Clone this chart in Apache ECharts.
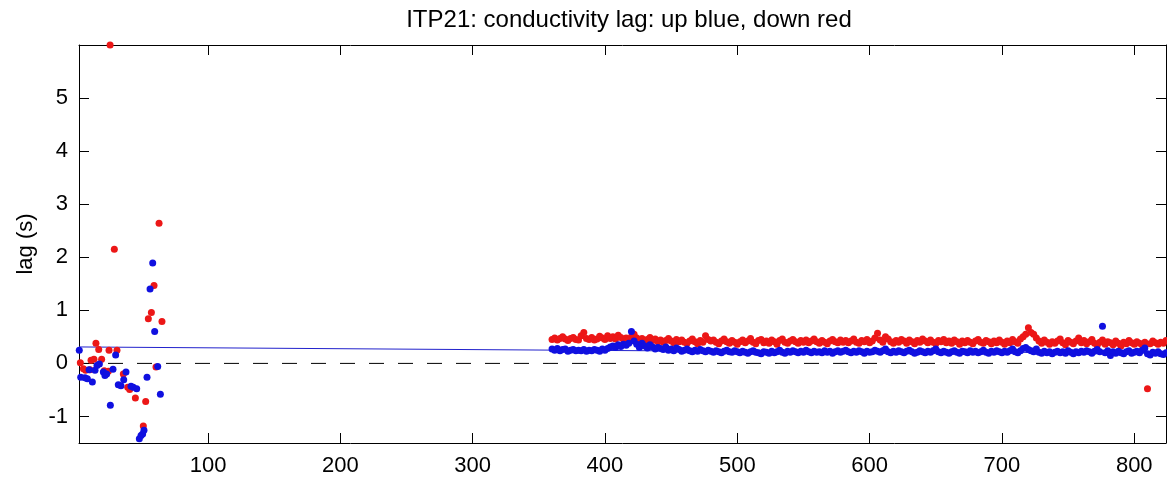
<!DOCTYPE html>
<html>
<head>
<meta charset="utf-8">
<script src="https://cdn.jsdelivr.net/npm/echarts@6/dist/echarts.min.js"></script>
<style>
html,body{margin:0;padding:0;background:#fff;}
#chart{width:1167px;height:482px;}
</style>
</head>
<body>
<div id="chart"></div>
<script>
// ---- data ----
const titleText = 'ITP21: conductivity lag: up blue, down red';
const yAxisName = 'lag (s)';
const xTicks = [100, 200, 300, 400, 500, 600, 700, 800];
const yTicks = [-1, 0, 1, 2, 3, 4, 5];
const xRange = [2.5, 824];
const yRange = [-1.5, 6];

// early profiles (x, lag)
const upEarly = [
  [2.7,0.25],[3.8,-0.26],[7,-0.27],[8.8,-0.29],[10.1,-0.12],[12.6,-0.35],[14.6,-0.13],[16.1,-0.04],
  [17.9,-0.01],[20.9,-0.16],[22.1,-0.23],[23.4,-0.2],[26.2,-0.79],[28.2,-0.11],[30.2,0.16],
  [32.2,-0.40],[34.2,-0.42],[36.3,-0.31],[38,-0.16],[41.8,-0.43],[43.5,-0.45],[46.1,-0.48],
  [48.1,-1.42],[49.4,-1.36],[50.6,-1.33],[51.6,-1.26],[53.9,-0.26],[56.2,1.40],[58.2,1.89],
  [59.7,0.60],[62,-0.06],[64,-0.58]
];
const downEarly = [
  [3.5,0.01],[5.8,-0.10],[7.5,-0.13],[10.8,-0.12],[11.6,0.06],[13.8,0.08],[15.3,0.38],[17.4,0.26],
  [19.6,0.08],[21.6,-0.14],[24.7,-0.15],[25.2,0.25],[26,6.0],[29.2,2.15],[31.2,0.25],[36,-0.2],
  [39.3,-0.45],[40.8,-0.49],[45.1,-0.65],[47.1,-1.53],[51.1,-1.18],[52.9,-0.72],[54.9,0.84],
  [57.2,0.96],[59.2,1.47],[60.7,-0.07],[63,2.64],[65.2,0.79]
];

// later profiles: first profile number and spacing, then lag values
const laterStart = 360;
const laterStep = 2;
const upLater = [
  0.27,0.25,0.28,0.24,0.26,0.27,0.23,0.25,0.26,0.24,0.25,
  0.24,0.26,0.23,0.25,0.24,0.26,0.25,0.23,0.27,0.25,
  0.28,0.31,0.33,0.30,0.35,0.32,0.36,0.34,0.38,0.60,
  0.42,0.36,0.30,0.38,0.33,0.29,0.35,0.31,0.27,0.30,
  0.28,0.26,0.31,0.25,0.27,0.24,0.29,0.26,0.23,0.25,
  0.27,0.24,0.22,0.25,0.23,0.26,0.24,0.22,0.25,0.23,
  0.21,0.24,0.22,0.20,0.23,0.25,0.22,0.21,0.24,0.22,
  0.20,0.23,0.21,0.19,0.22,0.24,0.21,0.20,0.18,0.22,
  0.21,0.19,0.23,0.20,0.22,0.25,0.21,0.19,0.23,0.21,
  0.24,0.22,0.20,0.23,0.21,0.25,0.22,0.20,0.23,0.21,
  0.22,0.20,0.24,0.21,0.23,0.19,0.22,0.24,0.21,0.23,
  0.25,0.22,0.20,0.23,0.21,0.24,0.22,0.19,0.23,0.21,
  0.22,0.25,0.23,0.21,0.24,0.27,0.22,0.20,0.23,0.21,
  0.24,0.22,0.20,0.23,0.25,0.22,0.19,0.21,0.24,0.22,
  0.20,0.23,0.21,0.24,0.27,0.22,0.20,0.23,0.21,0.19,
  0.22,0.24,0.21,0.19,0.23,0.22,0.20,0.24,0.21,0.23,
  0.20,0.22,0.25,0.21,0.19,0.23,0.21,0.24,0.22,0.20,
  0.23,0.21,0.24,0.27,0.22,0.20,0.24,0.28,0.30,0.26,
  0.24,0.22,0.27,0.21,0.19,0.23,0.20,0.22,0.18,0.21,
  0.23,0.20,0.22,0.19,0.24,0.21,0.18,0.22,0.20,0.23,
  0.21,0.24,0.22,0.19,0.23,0.26,0.22,0.70,0.20,0.24,
  0.15,0.22,0.19,0.23,0.20,0.18,0.22,0.24,0.19,0.21,
  0.23,0.20,0.25,0.29,0.18,0.16,0.21,0.19,0.22,0.18,
  0.17,0.20,0.19
];
const downLater = [
  0.45,0.48,0.44,0.47,0.50,0.46,0.43,0.47,0.49,0.45,0.44,
  0.52,0.58,0.47,0.45,0.49,0.44,0.46,0.51,0.48,0.45,
  0.52,0.47,0.50,0.46,0.53,0.49,0.45,0.48,0.44,0.50,
  0.55,0.48,0.44,0.47,0.42,0.45,0.49,0.43,0.46,0.41,
  0.44,0.40,0.43,0.47,0.42,0.39,0.45,0.41,0.44,0.40,
  0.38,0.42,0.46,0.41,0.37,0.43,0.40,0.52,0.45,0.42,
  0.44,0.40,0.37,0.42,0.46,0.41,0.38,0.43,0.40,0.36,
  0.41,0.44,0.39,0.42,0.47,0.40,0.37,0.43,0.45,0.39,
  0.42,0.38,0.44,0.41,0.36,0.43,0.46,0.40,0.38,0.42,
  0.45,0.41,0.38,0.43,0.40,0.44,0.39,0.42,0.46,0.41,
  0.38,0.43,0.40,0.37,0.42,0.45,0.41,0.39,0.44,0.40,
  0.43,0.39,0.42,0.46,0.40,0.38,0.43,0.41,0.45,0.39,
  0.42,0.48,0.57,0.44,0.40,0.50,0.46,0.41,0.38,0.43,
  0.40,0.45,0.42,0.38,0.44,0.41,0.37,0.43,0.40,0.46,
  0.42,0.39,0.44,0.40,0.37,0.43,0.41,0.45,0.39,0.42,
  0.38,0.44,0.41,0.36,0.42,0.39,0.43,0.40,0.37,0.42,
  0.45,0.40,0.38,0.43,0.41,0.37,0.42,0.39,0.44,0.40,
  0.36,0.42,0.39,0.45,0.41,0.38,0.46,0.50,0.55,0.67,
  0.58,0.55,0.48,0.42,0.38,0.44,0.40,0.36,0.41,0.38,
  0.42,0.46,0.39,0.35,0.43,0.40,0.37,0.42,0.48,0.39,
  0.43,0.37,0.41,0.45,0.38,0.34,0.40,0.44,0.36,0.41,
  0.39,0.35,0.42,0.38,0.33,0.40,0.37,0.43,0.39,0.36,
  0.41,0.38,0.35,0.40,-0.48,0.37,0.42,0.39,0.36,0.40,
  0.38,0.43,0.45
];

// smoothed "up" lag line
const upLineX = [2.5, 360, 520, 700, 824];
const upLineY = [0.31, 0.25, 0.225, 0.21, 0.195];

// ---- build ----
const toPairs = (vals) => vals.map((v, i) => [laterStart + i * laterStep, v]);
const upAll = upEarly.concat(toPairs(upLater));
const downAll = downEarly.concat(toPairs(downLater));
const upLine = upLineX.map((x, i) => [x, upLineY[i]]);

const FONT = 'Liberation Sans, Arial, Helvetica, sans-serif';
const RED = '#ec1717';
const BLUE = '#1010e0';

const chart = echarts.init(document.getElementById('chart'), null, {renderer: 'canvas'});
const axisLineStyle = {color: '#000', width: 1};
chart.setOption({
  animation: false,
  backgroundColor: '#fff',
  title: {
    text: titleText, left: 624, top: 3, textAlign: 'center',
    textStyle: {fontFamily: FONT, fontSize: 24, fontWeight: 'normal', color: '#000'}
  },
  grid: {left: 79, top: 45, right: 1, bottom: 39, containLabel: false},
  xAxis: [{
    type: 'value', min: xRange[0], max: xRange[1], position: 'bottom',
    axisLine: {show: true, onZero: false, lineStyle: axisLineStyle},
    axisTick: {show: true, inside: true, length: 10, customValues: xTicks, lineStyle: axisLineStyle},
    axisLabel: {show: true, customValues: xTicks, margin: 12, fontFamily: FONT, fontSize: 22, color: '#000'},
    splitLine: {show: false}
  }, {
    type: 'value', min: xRange[0], max: xRange[1], position: 'top',
    axisLine: {show: true, onZero: false, lineStyle: axisLineStyle},
    axisTick: {show: true, inside: true, length: 10, customValues: xTicks, lineStyle: axisLineStyle},
    axisLabel: {show: false},
    splitLine: {show: false}
  }],
  yAxis: [{
    type: 'value', min: yRange[0], max: yRange[1], position: 'left',
    name: yAxisName, nameLocation: 'middle', nameGap: 42, nameRotate: 90,
    nameTextStyle: {fontFamily: FONT, fontSize: 22, color: '#000'},
    axisLine: {show: true, onZero: false, lineStyle: axisLineStyle},
    axisTick: {show: true, inside: true, length: 10, customValues: yTicks, lineStyle: axisLineStyle},
    axisLabel: {show: true, customValues: yTicks, margin: 11, fontFamily: FONT, fontSize: 22, color: '#000'},
    splitLine: {show: false}
  }, {
    type: 'value', min: yRange[0], max: yRange[1], position: 'right',
    axisLine: {show: true, onZero: false, lineStyle: axisLineStyle},
    axisTick: {show: true, inside: true, length: 10, customValues: yTicks, lineStyle: axisLineStyle},
    axisLabel: {show: false},
    splitLine: {show: false}
  }],
  series: [
    {
      type: 'line', name: 'zero', data: [[xRange[0], 0], [xRange[1], 0]],
      showSymbol: false, symbol: 'none', silent: true,
      lineStyle: {color: '#000', width: 1, type: [15, 14]}, z: 1
    },
    {
      type: 'line', name: 'up fit', data: upLine, showSymbol: false, symbol: 'none',
      lineStyle: {color: '#2222cc', width: 1}, z: 2
    },
    {
      type: 'scatter', name: 'down', data: downAll, symbolSize: 7,
      itemStyle: {color: RED, opacity: 1}, clip: true, z: 3
    },
    {
      type: 'scatter', name: 'up', data: upAll, symbolSize: 7,
      itemStyle: {color: BLUE, opacity: 1}, clip: true, z: 4
    }
  ]
});
</script>
</body>
</html>
